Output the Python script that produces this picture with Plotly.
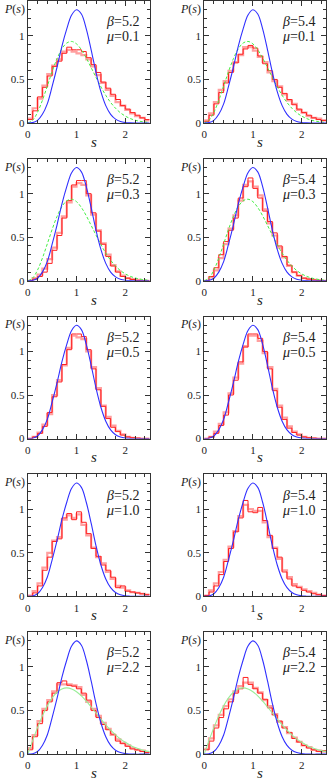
import numpy as np
import plotly.graph_objects as go

# spacing grid (s) and histogram bin edges, bin width 0.1
s_grid = np.round(np.arange(26) * 0.1, 2)
s_edges = s_grid

# smooth reference curves
blue_curve = [0, 0.005, 0.03, 0.1, 0.22, 0.42, 0.64, 0.88, 1.08, 1.24, 1.3, 1.25, 1.08,
              0.84, 0.58, 0.36, 0.2, 0.1, 0.045, 0.018, 0.006, 0.002, 0, 0, 0, 0]
green_dashed = [0, 0.032, 0.123, 0.26, 0.423, 0.59, 0.738, 0.851, 0.918, 0.936, 0.908, 0.841, 0.746,
                0.636, 0.524, 0.416, 0.318, 0.236, 0.17, 0.118, 0.08, 0.052, 0.033, 0.02, 0.012, 0.007]
green_solid = [0, 0.156, 0.304, 0.439, 0.554, 0.645, 0.71, 0.748, 0.76, 0.748, 0.716, 0.668, 0.608,
               0.541, 0.472, 0.402, 0.336, 0.276, 0.222, 0.175, 0.136, 0.103, 0.077, 0.057, 0.041, 0.029]

# histograms (25 bins), red and pink for each panel
red_52_01 = [0.04, 0.14, 0.3, 0.41, 0.54, 0.65, 0.71, 0.8, 0.87, 0.84, 0.84, 0.82, 0.75, 0.67, 0.58,
             0.47, 0.4, 0.33, 0.27, 0.2, 0.16, 0.12, 0.09, 0.06, 0.04]
pink_52_01 = [0.05, 0.17, 0.28, 0.43, 0.56, 0.66, 0.73, 0.82, 0.84, 0.82, 0.8, 0.78, 0.73, 0.65, 0.55,
              0.46, 0.38, 0.31, 0.24, 0.2, 0.15, 0.11, 0.08, 0.06, 0.03]
red_54_01 = [0.02, 0.09, 0.22, 0.35, 0.46, 0.58, 0.69, 0.79, 0.85, 0.89, 0.86, 0.77, 0.68, 0.6, 0.5,
             0.41, 0.34, 0.27, 0.21, 0.16, 0.12, 0.09, 0.06, 0.04, 0.03]
pink_54_01 = [0.03, 0.11, 0.24, 0.38, 0.48, 0.6, 0.7, 0.78, 0.87, 0.87, 0.83, 0.76, 0.7, 0.58, 0.48,
              0.42, 0.33, 0.26, 0.22, 0.15, 0.12, 0.08, 0.06, 0.05, 0.03]
red_52_03 = [0, 0.02, 0.05, 0.1, 0.2, 0.35, 0.52, 0.72, 0.92, 1.1, 1.15, 1.15, 1.0, 0.78, 0.57,
             0.42, 0.28, 0.17, 0.1, 0.05, 0.03, 0.015, 0.005, 0, 0]
pink_52_03 = [0, 0.03, 0.07, 0.14, 0.25, 0.38, 0.55, 0.74, 0.9, 1.08, 1.12, 1.1, 0.98, 0.76, 0.58,
              0.43, 0.3, 0.18, 0.11, 0.06, 0.03, 0.02, 0.01, 0, 0]
red_54_03 = [0, 0.05, 0.15, 0.3, 0.45, 0.58, 0.72, 0.95, 1.08, 1.18, 1.06, 0.95, 0.8, 0.68, 0.55,
             0.4, 0.28, 0.18, 0.1, 0.06, 0.03, 0.02, 0.01, 0.005, 0]
pink_54_03 = [0, 0.04, 0.12, 0.26, 0.42, 0.6, 0.75, 0.92, 1.1, 1.14, 1.08, 0.98, 0.82, 0.66, 0.52,
              0.38, 0.27, 0.17, 0.1, 0.06, 0.03, 0.02, 0.01, 0.005, 0]
red_52_05 = [0, 0.02, 0.06, 0.14, 0.3, 0.48, 0.65, 0.85, 1.02, 1.2, 1.2, 1.17, 1.02, 0.8, 0.56,
             0.37, 0.23, 0.13, 0.08, 0.04, 0.02, 0.01, 0.005, 0, 0]
pink_52_05 = [0, 0.02, 0.07, 0.16, 0.28, 0.5, 0.67, 0.84, 1.04, 1.18, 1.16, 1.14, 1.0, 0.82, 0.58,
              0.38, 0.25, 0.15, 0.09, 0.05, 0.02, 0.01, 0.005, 0, 0]
red_54_05 = [0, 0.02, 0.06, 0.15, 0.27, 0.5, 0.67, 0.88, 1.05, 1.2, 1.2, 1.15, 1.0, 0.8, 0.55,
             0.36, 0.22, 0.12, 0.07, 0.04, 0.02, 0.01, 0.005, 0, 0]
pink_54_05 = [0, 0.02, 0.08, 0.17, 0.3, 0.52, 0.7, 0.86, 1.06, 1.18, 1.18, 1.12, 0.98, 0.82, 0.57,
              0.38, 0.24, 0.14, 0.08, 0.05, 0.02, 0.01, 0.005, 0, 0]
red_52_10 = [0, 0.04, 0.12, 0.3, 0.45, 0.63, 0.66, 0.9, 0.95, 0.88, 0.97, 0.85, 0.72, 0.55, 0.46,
             0.36, 0.3, 0.22, 0.1, 0.12, 0.06, 0.05, 0.04, 0.03, 0.02]
pink_52_10 = [0.01, 0.06, 0.15, 0.33, 0.5, 0.64, 0.68, 0.88, 0.93, 0.9, 0.94, 0.82, 0.7, 0.56, 0.45,
              0.38, 0.28, 0.2, 0.12, 0.1, 0.07, 0.05, 0.04, 0.03, 0.02]
red_54_10 = [0.01, 0.05, 0.12, 0.25, 0.4, 0.55, 0.74, 0.9, 1.1, 0.97, 0.96, 1.02, 0.87, 0.7, 0.55,
             0.45, 0.28, 0.2, 0.12, 0.1, 0.07, 0.05, 0.03, 0.02, 0.01]
pink_54_10 = [0.01, 0.07, 0.15, 0.28, 0.42, 0.57, 0.75, 0.92, 1.05, 1.0, 0.98, 0.98, 0.85, 0.68, 0.56,
              0.43, 0.3, 0.22, 0.14, 0.11, 0.08, 0.06, 0.04, 0.02, 0.01]
red_52_22 = [0.05, 0.2, 0.35, 0.5, 0.6, 0.7, 0.82, 0.84, 0.79, 0.78, 0.75, 0.7, 0.62, 0.5, 0.42,
             0.34, 0.28, 0.23, 0.15, 0.12, 0.09, 0.06, 0.05, 0.03, 0.02]
pink_52_22 = [0.07, 0.22, 0.38, 0.52, 0.62, 0.72, 0.8, 0.8, 0.8, 0.79, 0.77, 0.68, 0.6, 0.52, 0.44,
              0.36, 0.29, 0.22, 0.17, 0.13, 0.1, 0.07, 0.05, 0.04, 0.02]
red_54_22 = [0.05, 0.15, 0.3, 0.42, 0.52, 0.6, 0.7, 0.75, 0.88, 0.8, 0.75, 0.7, 0.63, 0.53, 0.45,
             0.38, 0.3, 0.25, 0.18, 0.14, 0.1, 0.07, 0.05, 0.03, 0.04]
pink_54_22 = [0.06, 0.18, 0.33, 0.45, 0.55, 0.63, 0.72, 0.78, 0.82, 0.82, 0.76, 0.71, 0.62, 0.55, 0.46,
              0.37, 0.31, 0.24, 0.19, 0.14, 0.1, 0.08, 0.05, 0.04, 0.03]

betas = ["5.2", "5.4"]
mus = ["0.1", "0.3", "0.5", "1.0", "2.2"]
red_hists = [[red_52_01, red_54_01], [red_52_03, red_54_03], [red_52_05, red_54_05],
             [red_52_10, red_54_10], [red_52_22, red_54_22]]
pink_hists = [[pink_52_01, pink_54_01], [pink_52_03, pink_54_03], [pink_52_05, pink_54_05],
              [pink_52_10, pink_54_10], [pink_52_22, pink_54_22]]
# which green curve is drawn in each row
green_rows = [green_dashed, green_dashed, None, None, green_solid]

W, H = 327, 782
col_px = [(25, 148), (203, 326)]
row_bottom_px = [124, 283, 442, 601, 760]
panel_h = 123

fig = go.Figure()
annotations = []
serif = "Liberation Serif, Times New Roman, serif"

for r in range(5):
    for c in range(2):
        k = r * 2 + c + 1
        xa = "x" if k == 1 else "x%d" % k
        ya = "y" if k == 1 else "y%d" % k
        x0, x1 = col_px[c]
        yb = row_bottom_px[r]
        yt = yb - panel_h
        xdom = [x0 / W, x1 / W]
        ydom = [1 - yb / H, 1 - yt / H]
        axis_style = dict(showline=True, linecolor="#333", linewidth=1, mirror="ticks",
                          ticks="inside", tickcolor="#333", showgrid=False, zeroline=False,
                          tickfont=dict(family=serif, size=11, color="#222"))
        fig.layout["xaxis" if k == 1 else "xaxis%d" % k] = dict(
            domain=xdom, range=[0, 2.5], anchor=ya, tickvals=[0, 1, 2], ticklen=5,
            minor=dict(dtick=0.2, tick0=0, ticks="inside", ticklen=3, tickcolor="#333"),
            ticklabelstandoff=1, **axis_style)
        fig.layout["yaxis" if k == 1 else "yaxis%d" % k] = dict(
            domain=ydom, range=[0, 1.4], anchor=xa, tickvals=[0, 0.5, 1], ticktext=["0", "0.5", "1"],
            ticklen=5, minor=dict(dtick=0.1, tick0=0, ticks="inside", ticklen=3, tickcolor="#333"),
            **axis_style)

        pink = pink_hists[r][c]
        red = red_hists[r][c]
        fig.add_trace(go.Scatter(x=s_edges, y=pink + [pink[-1]], mode="lines", line_shape="hv",
                                 line=dict(color="#ffa0a0", width=2.2), xaxis=xa, yaxis=ya))
        fig.add_trace(go.Scatter(x=s_edges, y=red + [red[-1]], mode="lines", line_shape="hv",
                                 line=dict(color="#ff2020", width=1), xaxis=xa, yaxis=ya))
        g = green_rows[r]
        if g is green_dashed:
            fig.add_trace(go.Scatter(x=s_grid, y=g, mode="lines", line_shape="spline",
                                     line=dict(color="#44ee44", width=1, dash="3px,2px"),
                                     xaxis=xa, yaxis=ya))
        elif g is not None:
            fig.add_trace(go.Scatter(x=s_grid, y=g, mode="lines", line_shape="spline",
                                     line=dict(color="#99ee99", width=1.1), xaxis=xa, yaxis=ya))
        fig.add_trace(go.Scatter(x=s_grid, y=blue_curve, mode="lines", line_shape="spline",
                                 line=dict(color="#3030ff", width=1.1), xaxis=xa, yaxis=ya))

        xmid = (x0 + x1) / 2
        annotations.append(dict(x=xmid / W, y=1 - (yb + 19) / H, xref="paper", yref="paper",
                                text="<i>s</i>", showarrow=False, yanchor="middle",
                                font=dict(family=serif, size=15, color="#222")))
        annotations.append(dict(x=(x0 - 25) / W, y=1 - (yt + 8) / H, xref="paper", yref="paper",
                                text="<i>P</i>(<i>s</i>)", showarrow=False, xanchor="left",
                                yanchor="middle", borderpad=0,
                                font=dict(family=serif, size=12, color="#222")))
        annotations.append(dict(x=(x1 - 9) / W, y=1 - (yt + 21) / H, xref="paper", yref="paper",
                                text="<i>β</i>=" + betas[c], showarrow=False, xanchor="right",
                                yanchor="middle", font=dict(family=serif, size=14, color="#222")))
        annotations.append(dict(x=(x1 - 9) / W, y=1 - (yt + 36) / H, xref="paper", yref="paper",
                                text="<i>μ</i>=" + mus[r], showarrow=False, xanchor="right",
                                yanchor="middle", font=dict(family=serif, size=14, color="#222")))

fig.update_layout(width=W, height=H, margin=dict(l=0, r=0, t=0, b=0), showlegend=False,
                  plot_bgcolor="white", paper_bgcolor="white", annotations=annotations)
fig.write_html("out.html", config={"displayModeBar": False},
               post_script="document.body.style.margin='0';")
